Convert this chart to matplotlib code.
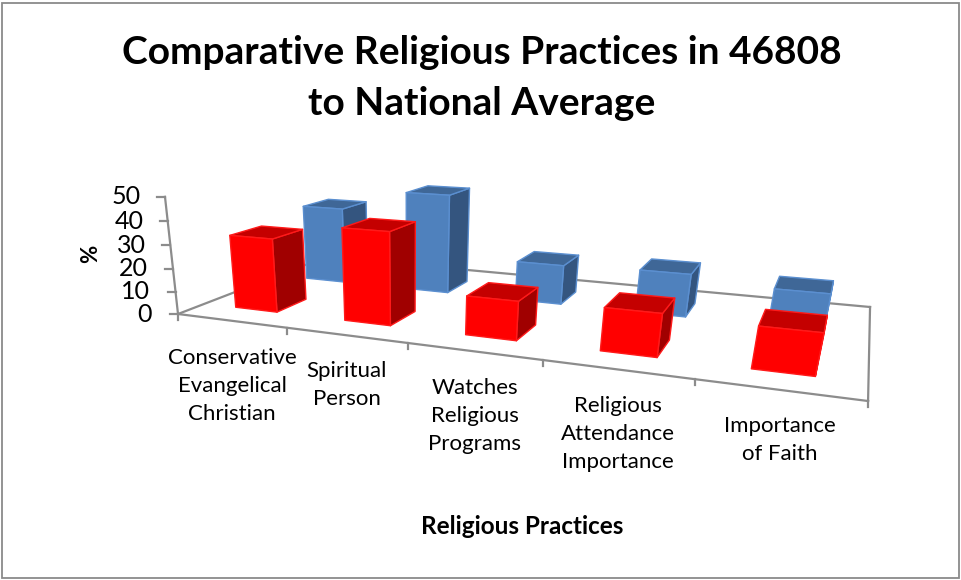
#!/usr/bin/env python3

from __future__ import annotations

import matplotlib

matplotlib.use("Agg")
import matplotlib.pyplot as plt
import numpy as np
from matplotlib.patches import Polygon, Rectangle

CATEGORIES = [
    "Conservative\nEvangelical\nChristian",
    "Spiritual\nPerson",
    "Watches\nReligious\nPrograms",
    "Religious\nAttendance\nImportance",
    "Importance\nof Faith",
]
LOCAL_VALUES = [32, 39, 16, 17, 16]  # red, front row
NATIONAL_VALUES = [35.5, 45, 17.5, 18.5, 15.5]  # blue, back row
VALUE_TICKS = [0, 10, 20, 30, 40, 50]

TITLE = "Comparative Religious Practices in 46808\nto National Average"
X_TITLE = "Religious Practices"
Y_TITLE = "%"

RED = {"front": "#ff0000", "side": "#a00000", "top": "#c40000", "edge": "#ff1a1a"}
BLUE = {"front": "#4f81bd", "side": "#34557f", "top": "#3f6797", "edge": "#5b8fd0"}
AXIS_COLOR = "#8c8c8c"
FONT = ["Lato", "DejaVu Sans"]

# camera: floor homography columns and vertical vanishing direction
CAMERA = np.array(
    [
        [472.7, 235.8, -0.436, 178.0],
        [-13.4, 12.2, -2.553, 314.0],
        [-0.2504, 0.2693, -0.001066, 1.0],
    ]
)
N = len(CATEGORIES)
BAR_HALF = 0.195
BAR_SHIFT = -0.005
ROWS = {"front": (0.15, 0.34), "back": (0.625, 0.815)}


def project(cat: float, depth: float, value: float = 0.0) -> tuple[float, float]:
    x, y, w = CAMERA @ np.array([cat / N, depth, value, 1.0])
    return x / w, y / w


def draw_bar(axis, index: int, value: float, row: tuple[float, float], colors: dict) -> None:
    center = index + 0.5 + BAR_SHIFT
    left, right = center - BAR_HALF, center + BAR_HALF
    near, far = row
    faces = [
        ("side", [(right, near, 0), (right, far, 0), (right, far, value), (right, near, value)]),
        ("top", [(left, near, value), (right, near, value), (right, far, value), (left, far, value)]),
        ("front", [(left, near, 0), (right, near, 0), (right, near, value), (left, near, value)]),
    ]
    for face, corners in faces:
        axis.add_patch(
            Polygon(
                [project(*corner) for corner in corners],
                closed=True,
                facecolor=colors[face],
                edgecolor=colors["edge"],
                linewidth=1.0,
                joinstyle="round",
                zorder=3,
            )
        )


def line3d(axis, start, end) -> None:
    p0, p1 = project(*start), project(*end)
    axis.plot([p0[0], p1[0]], [p0[1], p1[1]], color=AXIS_COLOR, linewidth=1.6, zorder=1)


def main() -> None:
    figure = plt.figure(figsize=(9.61, 5.80), dpi=100)
    axis = figure.add_axes([0, 0, 1, 1])
    axis.set_xlim(0, 961)
    axis.set_ylim(580, 0)
    axis.axis("off")

    axis.add_patch(
        Rectangle((2, 3), 957, 575, facecolor="white", edgecolor="#8a8a8a", linewidth=1.3, zorder=0)
    )

    # floor and axes
    line3d(axis, (0, 0, 0), (N, 0, 0))
    line3d(axis, (0, 0, 0), (0, 1, 0))
    line3d(axis, (0, 1, 0), (N, 1, 0))
    line3d(axis, (N, 1, 0), (N, 0, 0))
    line3d(axis, (0, 0, 0), (0, 0, VALUE_TICKS[-1]))

    for value in VALUE_TICKS:
        px, py = project(0, 0, value)
        axis.plot([px - 8, px], [py, py], color=AXIS_COLOR, linewidth=1.6, zorder=1)
        axis.text(px - 26 + value * 0.04, py, str(value), ha="right", va="center", fontsize=18, family=FONT)

    for index in range(N + 1):
        px, py = project(index, 0, 0)
        axis.plot([px, px], [py, py + 6], color=AXIS_COLOR, linewidth=1.6, zorder=1)

    for index, value in enumerate(NATIONAL_VALUES):
        draw_bar(axis, index, value, ROWS["back"], BLUE)
    for index, value in enumerate(LOCAL_VALUES):
        draw_bar(axis, index, value, ROWS["front"], RED)

    for index, label in enumerate(CATEGORIES):
        px, py = project(index + 0.5, 0, 0)
        lines = label.count("\n") + 1
        axis.text(
            px + 1,
            py + 65 - (3 - lines) * 15,
            label,
            ha="center",
            va="center",
            fontsize=16,
            family=FONT,
            linespacing=1.5,
        )

    axis.text(482, 78, TITLE, ha="center", va="center", fontsize=28, fontweight="bold", family=FONT, linespacing=1.54)
    axis.text(522, 526, X_TITLE, ha="center", va="center", fontsize=17.5, fontweight="bold", family=FONT)
    axis.text(91, 254, Y_TITLE, ha="center", va="center", rotation=90, fontsize=16, fontweight="bold", family=FONT)

    figure.savefig("out.png", dpi=100)
    plt.close(figure)


if __name__ == "__main__":
    main()
